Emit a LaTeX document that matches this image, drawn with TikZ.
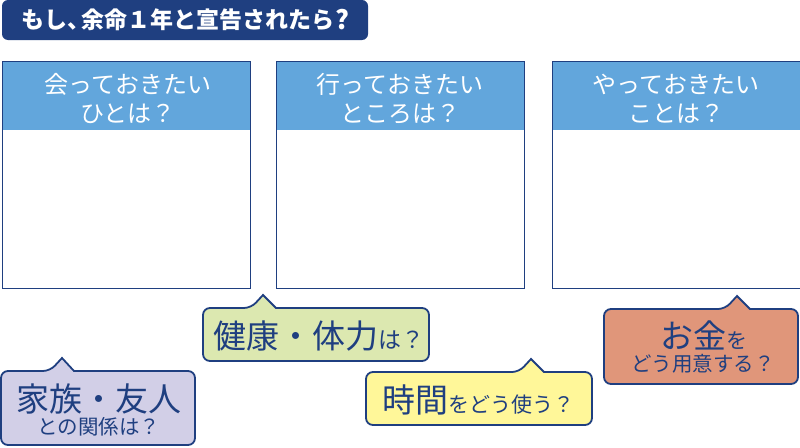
\documentclass[tikz,border=0pt]{standalone}
\usepackage{fontspec}
\setmainfont{Noto Sans CJK JP}
\newcommand{\bigsize}{\fontsize{33}{38}\selectfont}
\newcommand{\smallsize}{\fontsize{20.5}{25}\selectfont}
\definecolor{navy}{HTML}{1F3F80}
\definecolor{headblue}{HTML}{62A6DC}
\definecolor{lavender}{HTML}{D2CFE7}
\definecolor{leafgreen}{HTML}{DCE8B0}
\definecolor{paleyellow}{HTML}{FFF799}
\definecolor{salmon}{HTML}{E0967A}
\tikzset{
  panelbox/.style={draw=navy, line width=1pt, fill=white},
  headtext/.style={text=white, align=center, font=\fontsize{24}{29}\selectfont},
  bubblebox/.style={draw=navy, line width=1.8pt, rounded corners=7pt},
  bubbletext/.style={text=navy, inner sep=0pt}
}
\begin{document}
\begin{tikzpicture}[x=1pt, y=-1pt]
  \useasboundingbox (0, 0) rectangle (800, 447);

  \fill[navy, rounded corners=6pt] (2, 0) rectangle (368, 40);
  \node[text=white, anchor=west, inner sep=0pt, font=\fontsize{23}{26}\selectfont\bfseries] (title) at (21, 20) {もし、\hspace{-9pt}余命１年と宣告されたら\raisebox{-0.5pt}{\fontsize{26}{26}\selectfont\hspace{1pt}?}};

  % three panels
  \foreach \px/\tx/\pname/\ptext in {2/128/meet/会っておきたい\\ひとは？, 276/400/go/行っておきたい\\ところは？, 552/676/do/やっておきたい\\ことは？} {
    \draw[panelbox] (\px, 61) rectangle (\px+248, 288);
    \fill[headblue] (\px+0.5, 61.5) rectangle (\px+247.5, 130);
    \node[headtext] (\pname) at (\tx, 99) {\ptext};
  }

  % bubbles
  \draw[bubblebox, fill=lavender] (1, 371) -- (50, 371) [sharp corners] -- (62, 358) -- (74, 371) [rounded corners=7pt] -- (195, 371) -- (195, 445) -- (1, 445) -- cycle;
  \node[bubbletext, font=\bigsize] (family) at (99, 399) {家族・友人};
  \node[bubbletext, font=\smallsize] (familysub) at (99, 427) {との関係は？};

  \draw[bubblebox, fill=leafgreen] (203, 308) -- (251, 308) [sharp corners] -- (263, 295) -- (276, 308) [rounded corners=7pt] -- (429, 308) -- (429, 361) -- (203, 361) -- cycle;
  \node[bubbletext] (health) at (318.5, 336) {{\bigsize 健康・体力}{\fontsize{23}{25}\selectfont は？}};

  \draw[bubblebox, fill=paleyellow] (366, 372) -- (519, 372) [sharp corners] -- (531, 359) -- (544, 372) [rounded corners=7pt] -- (592, 372) -- (592, 425) -- (366, 425) -- cycle;
  \node[bubbletext] (time) at (478, 400) {{\bigsize 時間}{\fontsize{21}{25}\selectfont をどう使う？}};

  \draw[bubblebox, fill=salmon] (604, 309) -- (725, 309) [sharp corners] -- (737, 296) -- (750, 309) [rounded corners=7pt] -- (798, 309) -- (798, 384) -- (604, 384) -- cycle;
  \node[bubbletext] (money) at (703.5, 335) {{\bigsize お金}{\fontsize{21}{25}\selectfont を}};
  \node[bubbletext, font=\smallsize] (moneysub) at (703, 364) {どう用意する？};
\end{tikzpicture}
\end{document}
